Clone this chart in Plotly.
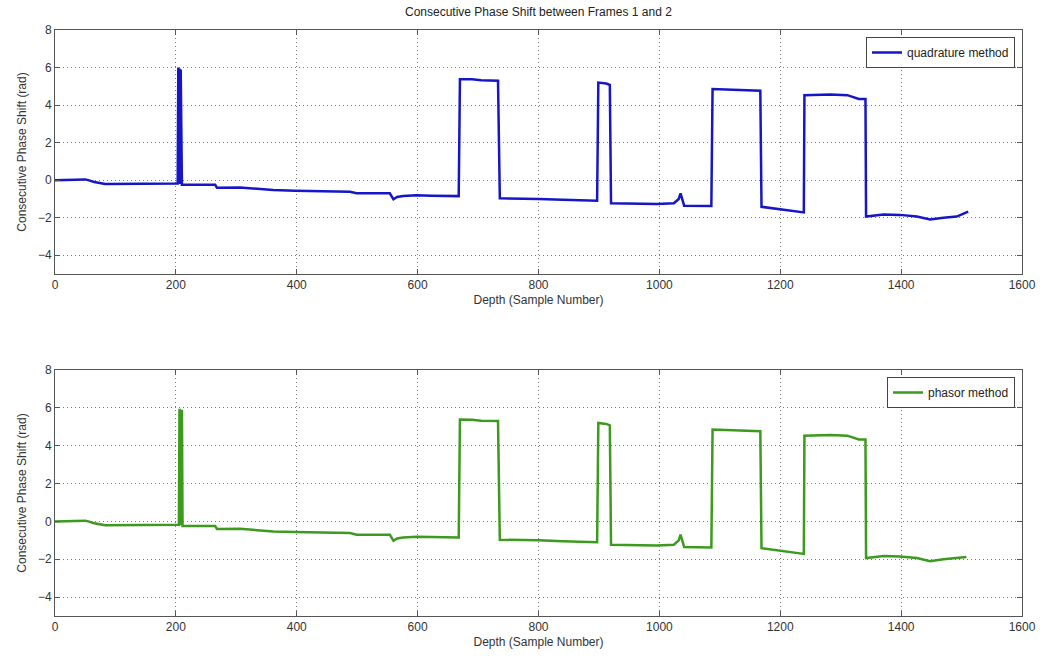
import plotly.graph_objects as go

# ---------------- data ----------------
quad_x = [0, 47, 50, 55, 65, 83, 150, 203, 204, 205, 206, 207, 208, 209, 210, 265, 268, 306, 330, 361, 397,
          488, 499, 554, 560, 566, 576, 598, 623, 668, 670, 690, 705, 733, 736, 770, 800, 840, 897, 899,
          912, 918, 920, 996, 1024, 1032, 1035, 1041, 1086, 1088, 1120, 1167, 1169, 1200, 1239, 1240,
          1283, 1311, 1330, 1341, 1342, 1371, 1398, 1426, 1448, 1470, 1492, 1511]
quad_y = [0, 0.02, 0.04, 0, -0.1, -0.2, -0.2, -0.18, 6.0, -0.2, 5.95, -0.2, 5.9, 3.4, -0.25, -0.25, -0.4, -0.39,
          -0.45, -0.53, -0.56, -0.62, -0.7, -0.7, -1.02, -0.9, -0.85, -0.81, -0.83, -0.85, 5.38, 5.37, 5.32,
          5.3, -0.97, -0.97, -1.0, -1.05, -1.1, 5.2, 5.15, 5.08, -1.23, -1.27, -1.23, -1.0, -0.7, -1.36,
          -1.38, 4.85, 4.8, 4.76, -1.42, -1.55, -1.72, 4.53, 4.56, 4.53, 4.33, 4.33, -1.94, -1.83, -1.85,
          -1.94, -2.1, -2.0, -1.94, -1.68]

phasor_x = [0, 47, 50, 55, 65, 83, 150, 205, 206, 207, 208, 209, 210, 211, 265, 268, 306, 330, 361, 397,
            488, 499, 554, 560, 566, 576, 598, 623, 668, 670, 690, 705, 733, 736, 770, 800, 840, 897, 899,
            912, 918, 920, 996, 1024, 1032, 1035, 1041, 1086, 1088, 1120, 1167, 1169, 1200, 1239, 1240,
            1283, 1311, 1330, 1341, 1342, 1371, 1398, 1426, 1448, 1470, 1492, 1508]
phasor_y = [0, 0.02, 0.04, 0, -0.1, -0.2, -0.2, -0.18, 5.95, -0.2, 4.5, -0.2, 5.9, -0.25, -0.25, -0.4, -0.39,
            -0.45, -0.53, -0.56, -0.62, -0.7, -0.7, -1.02, -0.9, -0.85, -0.81, -0.83, -0.85, 5.38, 5.37, 5.32,
            5.3, -0.97, -0.97, -1.0, -1.05, -1.1, 5.2, 5.15, 5.08, -1.23, -1.27, -1.23, -1.0, -0.7, -1.36,
            -1.38, 4.85, 4.8, 4.76, -1.42, -1.55, -1.72, 4.53, 4.56, 4.53, 4.33, 4.33, -1.94, -1.83, -1.85,
            -1.94, -2.1, -2.0, -1.94, -1.88]

x_ticks = [0, 200, 400, 600, 800, 1000, 1200, 1400, 1600]
y_ticks = [-4, -2, 0, 2, 4, 6, 8]

title_text = "Consecutive Phase Shift between Frames 1 and 2"
x_label = "Depth (Sample Number)"
y_label = "Consecutive Phase Shift (rad)"

# ---------------- figure ----------------
FONT = "Liberation Sans, Arial, sans-serif"
fig = go.Figure()
fig.add_trace(go.Scatter(x=quad_x, y=quad_y, mode="lines", name="quadrature method",
                         line=dict(color="#1616c8", width=2.5), xaxis="x", yaxis="y", legend="legend"))
fig.add_trace(go.Scatter(x=phasor_x, y=phasor_y, mode="lines", name="phasor method",
                         line=dict(color="#3c9a1e", width=2.5), xaxis="x2", yaxis="y2", legend="legend2"))

W, H = 1042, 659
xdom = [55 / W, 1022 / W]
ax_common = dict(showline=True, linecolor="#555", linewidth=1, mirror="ticks",
                 ticks="inside", ticklen=5, tickcolor="#555",
                 showgrid=True, gridcolor="#7a7a7a", griddash="1px,3px", gridwidth=1,
                 zeroline=False, automargin=False,
                 tickfont=dict(family=FONT, size=12, color="#333"))

xa = dict(ax_common, range=[0, 1600], tickvals=x_ticks, domain=xdom,
          title=dict(text=x_label, font=dict(family=FONT, size=12, color="#333"), standoff=4))
ya = dict(ax_common, range=[-5, 8], tickvals=y_ticks,
          title=dict(text=y_label, font=dict(family=FONT, size=12, color="#333"), standoff=8))

fig.update_layout(
    width=W, height=H,
    margin=dict(l=0, r=0, t=0, b=0, autoexpand=False),
    paper_bgcolor="white", plot_bgcolor="white",
    xaxis=dict(xa, anchor="y"),
    yaxis=dict(ya, domain=[1 - 274 / H, 1 - 30 / H], anchor="x"),
    xaxis2=dict(xa, anchor="y2"),
    yaxis2=dict(ya, domain=[1 - 616 / H, 1 - 370 / H], anchor="x2"),
    legend=dict(x=1015 / W, xanchor="right", y=1 - 37 / H, yanchor="top",
                bgcolor="white", bordercolor="#444", borderwidth=1,
                font=dict(family=FONT, size=12, color="#222")),
    legend2=dict(x=1015 / W, xanchor="right", y=1 - 377 / H, yanchor="top",
                 bgcolor="white", bordercolor="#444", borderwidth=1,
                 font=dict(family=FONT, size=12, color="#222")),
    annotations=[dict(text=title_text, xref="paper", yref="paper", x=(55 + 1022) / 2 / W,
                      y=1 - 12 / H, xanchor="center", yanchor="middle", showarrow=False,
                      font=dict(family=FONT, size=12, color="#222"))],
    showlegend=True,
)

fig.write_html("out.html")
